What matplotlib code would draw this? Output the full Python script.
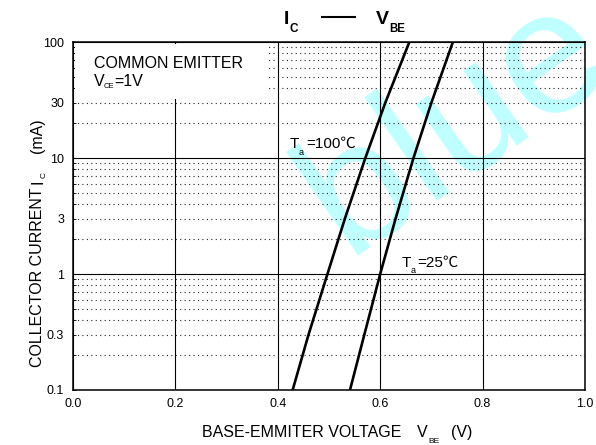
import numpy as np
import matplotlib
matplotlib.use("Agg")
import matplotlib.pyplot as plt
from matplotlib.patches import Rectangle
from matplotlib.ticker import FixedLocator, FuncFormatter

plt.rcParams['font.family'] = ['Liberation Sans', 'Noto Sans CJK SC', 'DejaVu Sans']

# collector current (mA) and base-emitter voltage (V)
ic = [0.1, 0.3, 1, 3, 10, 30, 100]
vbe_100 = [0.429, 0.460, 0.497, 0.531, 0.571, 0.610, 0.657]
vbe_25 = [0.541, 0.569, 0.600, 0.630, 0.665, 0.700, 0.742]

x_ticks = [0.0, 0.2, 0.4, 0.6, 0.8, 1.0]
y_major = [0.1, 1, 10, 100]
y_minor = [m * d for d in (0.1, 1, 10) for m in range(2, 10)]
y_labelled = [0.3, 3, 30]

W, H = 596, 445


def fx(x):
    return x / W


def fy(y):
    return 1 - y / H


fig = plt.figure(figsize=(W / 100, H / 100), dpi=100)
ax = fig.add_axes([fx(73), fy(390), 512 / W, 348 / H])
ax.set_facecolor('none')

ax.set_yscale('log')
ax.set_xlim(0, 1.0)
ax.set_ylim(0.1, 100)

ax.plot(vbe_100, ic, color='black', lw=1.9, zorder=3)
ax.plot(vbe_25, ic, color='black', lw=1.9, zorder=3)

# grid
ax.set_axisbelow(True)
ax.set_xticks(x_ticks)
ax.set_xticklabels(['%.1f' % v for v in x_ticks])
ax.yaxis.set_major_locator(FixedLocator(y_major))
ax.yaxis.set_minor_locator(FixedLocator(y_minor))
ax.yaxis.set_major_formatter(FuncFormatter(lambda v, p: '%g' % v))
ax.yaxis.set_minor_formatter(FuncFormatter(
    lambda v, p: '%g' % v if any(abs(v - t) < 1e-9 for t in y_labelled) else ''))
ax.grid(True, which='major', color='black', lw=0.8)
ax.grid(True, which='minor', axis='y', color='#222222', lw=0.8,
        linestyle=(0, (1, 3.0)))

ax.tick_params(axis='x', which='both', direction='in', length=0, pad=6,
               labelsize=9, colors='black', top=True)
ax.tick_params(axis='y', which='both', direction='in', length=2.5, pad=6.5,
               labelsize=9, width=0.6)
for s in ax.spines.values():
    s.set_linewidth(1.1)

# blank box behind the condition text
ax.add_patch(Rectangle((0.003, 32), 0.374, 64, facecolor='white',
                       edgecolor='none', zorder=1))

# watermark
fig.text(fx(348), fy(256), 'blue', fontsize=125, rotation=35, color='#bfffff',
         ha='left', va='baseline', rotation_mode='anchor', zorder=-1)

# title  I_C —— V_BE
fig.text(fx(284), fy(24), 'I', fontsize=14, fontweight='bold', va='baseline')
fig.text(fx(290), fy(32), 'C', fontsize=8.5, fontweight='bold', va='baseline')
fig.add_artist(plt.Line2D([fx(322), fx(355)], [fy(17), fy(17)],
                          color='black', lw=1.5))
fig.text(fx(376), fy(24), 'V', fontsize=14, fontweight='bold', va='baseline')
fig.text(fx(389), fy(32), 'BE', fontsize=8.3, fontweight='bold', va='baseline')

# condition text
fig.text(fx(94), fy(68), 'COMMON EMITTER', fontsize=11.5, va='baseline')
fig.text(fx(94), fy(86), 'V', fontsize=11.5, va='baseline')
fig.text(fx(103.5), fy(88), 'CE', fontsize=5.5, va='baseline')
fig.text(fx(114.5), fy(86), '=1V', fontsize=11.5, va='baseline')

# curve labels
fig.text(fx(290), fy(148), 'T', fontsize=11, va='baseline')
fig.text(fx(299), fy(155), 'a', fontsize=6.5, va='baseline')
fig.text(fx(306), fy(148), '=100℃', fontsize=11, va='baseline')
fig.text(fx(402), fy(267), 'T', fontsize=11, va='baseline')
fig.text(fx(411), fy(273), 'a', fontsize=6.5, va='baseline')
fig.text(fx(417), fy(267), '=25℃', fontsize=11, va='baseline')

# x label
fig.text(fx(202), fy(437), 'BASE-EMMITER VOLTAGE', fontsize=11.5, va='baseline')
fig.text(fx(417), fy(437), 'V', fontsize=11.5, va='baseline')
fig.text(fx(428), fy(443), 'BE', fontsize=6, va='baseline')
fig.text(fx(451), fy(437), '(V)', fontsize=11.5, va='baseline')

# y label
yl = dict(rotation=90, rotation_mode='anchor', ha='left', va='baseline')
fig.text(fx(42), fy(367), 'COLLECTOR CURRENT', fontsize=11.5, **yl)
fig.text(fx(42), fy(184), 'I', fontsize=11.5, **yl)
fig.text(fx(46), fy(178), 'C', fontsize=6, **yl)
fig.text(fx(42), fy(153), '(mA)', fontsize=11.5, **yl)

fig.savefig('out.png', dpi=100)
